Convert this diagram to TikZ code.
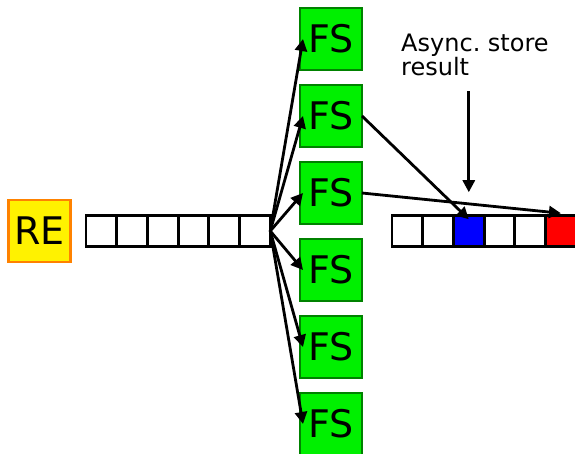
\documentclass[tikz,border=0pt]{standalone}
\usepackage{fontspec}
\setmainfont{DejaVu Sans}
\usetikzlibrary{arrows.meta, positioning, calc}

\definecolor{fsgreen}{RGB}{0,240,0}
\definecolor{fsedge}{RGB}{0,130,0}
\definecolor{reorange}{RGB}{255,130,0}

\begin{document}
\frenchspacing
\begin{tikzpicture}[x=1pt, y=1pt, node distance=15pt]
        \tikzstyle{engine} = [rectangle, minimum width=62pt, minimum height=62pt, inner sep=0pt, outer sep=0pt, line width=2.6pt, draw=reorange, fill=yellow, font=\fontsize{38}{38}\selectfont]
        \tikzstyle{fsbox} = [rectangle, minimum width=62pt, minimum height=62pt, inner sep=0pt, outer sep=0pt, line width=2.6pt, draw=fsedge, fill=fsgreen, font=\fontsize{38}{38}\selectfont]
        \tikzstyle{slot} = [rectangle, minimum width=30.7pt, minimum height=31.5pt, inner sep=0pt, outer sep=0pt, line width=2.8pt, draw=black, fill=white]
        \tikzstyle{arrow} = [line width=2.8pt, -{Triangle[length=12pt, width=12pt]}]

        \useasboundingbox (0,0) rectangle (575,453);

        % reading engine and its input queue
        \node (re) [engine] at (39.5,222) {RE};
        \node (q1) [slot] at (101.4,222) {};
        \foreach \i [count=\j from 2] in {1,...,5}
            \node (q\j) [slot, right=0pt of q\i] {};

        % filter stages
        \node (fs1) [fsbox] at (331,414) {FS};
        \foreach \i [count=\j from 2] in {1,...,5}
            \node (fs\j) [fsbox, below=of fs\i] {FS};

        % output queue
        \node (r1) [slot] at (407.4,222) {};
        \foreach \i [count=\j from 2] in {1,...,5}
            \node (r\j) [slot, right=0pt of r\i] {};
        \node [slot, fill=blue] at (r3) {};
        \node [slot, fill=red] at (r6) {};

        \node (store) [anchor=north west, align=left, inner sep=0pt, font=\fontsize{24}{22}\selectfont] at (401,419) {Async. store\\result};

        \foreach \k in {1,...,6}
            \draw [arrow] (q6.east) -- ([xshift=3pt]fs\k.west);
        \draw [arrow] (fs2.east) -- ([yshift=-4pt]r3.north);
        \draw [arrow] (fs3.east) -- ([yshift=2pt]r6.north);
        \draw [arrow] ($(r3.north |- store.south)+(0,-15)$) -- ($(r3.north)+(0,23)$);
    \end{tikzpicture}
\end{document}
